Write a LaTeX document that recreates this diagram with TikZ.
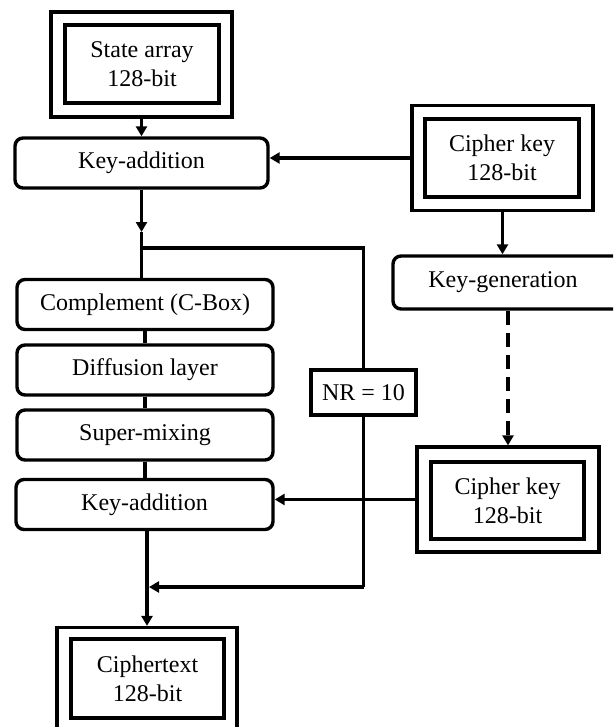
\documentclass[tikz,border=0pt]{standalone}
\usepackage{fontspec}
\setmainfont{Liberation Serif}
\usetikzlibrary{arrows.meta}
\begin{document}
\begin{tikzpicture}[x=1pt,y=-1pt,
  every node/.style={font=\fontsize{24}{29}\selectfont, align=center, inner sep=0pt},
  rbox/.style={draw, line width=3.4pt, rounded corners=8pt, minimum width=256pt, minimum height=50pt},
  obox/.style={draw, line width=3.2pt, minimum width=181pt, minimum height=105pt},
  ibox/.style={draw, line width=3.8pt, minimum width=154pt, minimum height=78pt},
  nrbox/.style={draw, line width=3.6pt, minimum width=105pt, minimum height=45pt},
  conn/.style={line width=3.8pt},
  arr/.style={conn, -{Triangle[length=10pt,width=11pt]}},
  dasharr/.style={arr, dash pattern=on 14pt off 8pt}
]
\useasboundingbox (0,0) rectangle (613,727);
\clip (0,0) rectangle (613,727);
\fill[white] (0,0) rectangle (613,727);

% state array
\node[obox] (sao) at (141.5,64.5) {};
\node[ibox] (sa) at (142,64) {State array\\128-bit};
% key addition 1
\node[rbox, minimum width=253pt] (ka1) at (141.5,163) {Key-addition};
% cipher key 1
\node[obox] (ck1o) at (502.5,158) {};
\node[ibox] (ck1) at (502,158) {Cipher key\\128-bit};
% key generation (cut at right edge)
\node[rbox, minimum width=270pt, minimum height=53pt] (kg) at (528,282.5) {};
\node (kgl) at (503,282.5) {Key-generation};
% left column
\node[rbox] (comp) at (145,304.5) {Complement (C-Box)};
\node[rbox] (diff) at (145,370) {Diffusion layer};
\node[rbox] (sm) at (145,435) {Super-mixing};
\node[rbox, minimum width=257pt] (ka2) at (144.5,504.5) {Key-addition};
% NR box
\node[nrbox] (nr) at (363.5,392.5) {NR = 10};
% cipher key 2
\node[obox, minimum width=182pt] (ck2o) at (508,499.5) {};
\node[ibox, minimum width=153pt, minimum height=77pt] (ck2) at (507.5,500.5) {Cipher key\\128-bit};
% ciphertext
\node[obox, minimum width=180pt] (cto) at (147,680) {};
\node[ibox, minimum width=153pt, minimum height=79pt] (ct) at (147.5,678.5) {Ciphertext\\128-bit};

% connectors
\draw[arr] (sao.south) -- (sao.south |- ka1.north);
\coordinate (a1) at (141.5,232);
\coordinate (j1) at (141.5,248);
\draw[arr] (ka1.south) -- (a1);
\draw[conn] (a1) -- (a1 |- comp.north);
\draw[conn] (j1) -| (nr.north);
\draw[conn] (comp.south) -- (diff.north);
\draw[conn] (diff.south) -- (sm.north);
\draw[conn] (sm.south) -- (sm.south |- ka2.north);
\coordinate (l1) at (363.5,587);
\coordinate (m1) at (149,587);
\draw[conn] (nr.south) -- (l1);
\draw[arr] (l1) -- (m1);
\draw[arr] (cto.north |- ka2.south) -- (cto.north);
\draw[arr] (ck1o.west) -- (ck1o.west -| ka1.east);
\draw[arr] (ck1o.south) -- (ck1o.south |- kg.north);
\draw[dasharr] (kg.south -| ck2o.north) -- (ck2o.north);
\draw[arr] (ck2o.west) -- (ck2o.west -| ka2.east);
\end{tikzpicture}
\end{document}
